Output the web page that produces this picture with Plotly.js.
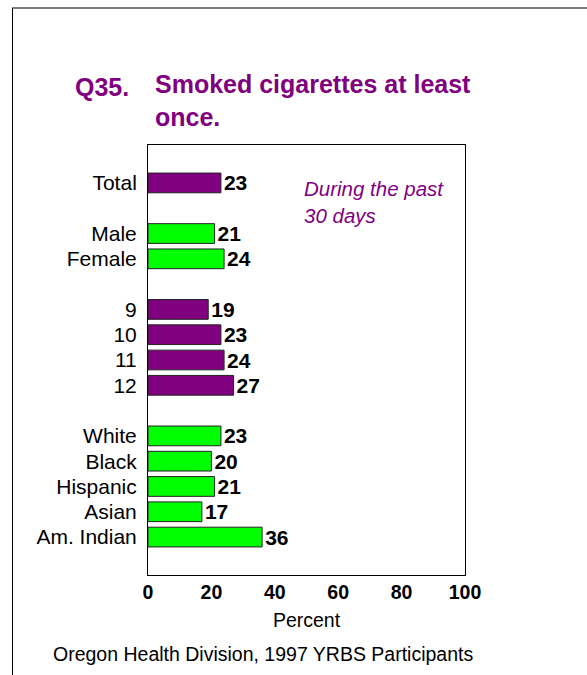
<!DOCTYPE html>
<html><head><meta charset="utf-8">
<script src="https://cdn.plot.ly/plotly-3.0.1.min.js"></script>
<style>html,body{margin:0;padding:0;background:#fff}#c{width:587px;height:675px}</style>
</head><body><div id="c"></div>
<script>
// Data
const totalLabels = ["Total"];
const totalValues = [23];
const sexLabels = ["Male", "Female"];
const sexValues = [21, 24];
const gradeLabels = ["9", "10", "11", "12"];
const gradeValues = [19, 23, 24, 27];
const raceLabels = ["White", "Black", "Hispanic", "Asian", "Am. Indian"];
const raceValues = [23, 20, 21, 17, 36];
const xTicks = [0, 20, 40, 60, 80, 100];

const PURPLE = "#800080", GREEN = "#00FF00";
const groups = [
  {labels: totalLabels, values: totalValues, color: PURPLE},
  {labels: sexLabels, values: sexValues, color: GREEN},
  {labels: gradeLabels, values: gradeValues, color: PURPLE},
  {labels: raceLabels, values: raceValues, color: GREEN}
];

const traces = [];
const tickvals = [], ticktext = [];
let pos = 0, lastPos = 0;
groups.forEach((g) => {
  const ys = g.labels.map((_, i) => pos + i);
  ys.forEach((y, i) => { tickvals.push(y); ticktext.push(g.labels[i]); lastPos = y; });
  traces.push({
    type: "bar", orientation: "h",
    x: g.values, y: ys,
    width: 0.78,
    marker: {color: g.color, line: {color: "#222", width: 1}},
    text: g.values.map(String), textposition: "outside", cliponaxis: false,
    constraintext: "none",
    textfont: {family: "Liberation Sans, Arial", size: 21, color: "#000", weight: "bold"},
    hoverinfo: "none", showlegend: false
  });
  pos += g.labels.length + 1;
});

// frame coordinates in paper units
const L = 148, R = 122, T = 145, B = 100, W = 587, H = 675;
const pw = W - L - R, ph = H - T - B;
const px = (x) => (x - L) / pw;
const py = (y) => (H - B - y) / ph;

const layout = {
  width: W, height: H,
  margin: {l: L, r: R, t: T, b: B},
  paper_bgcolor: "#fff", plot_bgcolor: "#fff",
  font: {family: "Liberation Sans, Arial", color: "#000"},
  bargap: 0,
  xaxis: {
    range: [0, 100], tickvals: xTicks, ticktext: xTicks.map(String),
    showgrid: false, zeroline: false, ticks: "",
    showline: true, linecolor: "#000", linewidth: 1, mirror: true,
    tickfont: {size: 19.5, weight: "bold", color: "#000"},
    title: {text: "Percent", font: {size: 19.5, color: "#000"}, standoff: 10},
    fixedrange: true
  },
  yaxis: {
    range: [lastPos + 1.5, -1.5],
    tickvals: tickvals, ticktext: ticktext,
    showgrid: false, zeroline: false, ticks: "",
    showline: true, linecolor: "#000", linewidth: 1, mirror: true,
    tickfont: {size: 21, color: "#000"},
    ticklabelstandoff: 6,
    fixedrange: true
  },
  annotations: [
    {xref: "paper", yref: "paper", x: px(73), y: py(87), xanchor: "left", yanchor: "middle",
     text: "<b>Q35.</b>", showarrow: false, font: {size: 25, color: PURPLE}},
    {xref: "paper", yref: "paper", x: px(153), y: py(100), xanchor: "left", yanchor: "middle",
     text: "<b>Smoked cigarettes at least<br>once.</b>", align: "left", showarrow: false,
     font: {size: 25, color: PURPLE}},
    {xref: "paper", yref: "paper", x: px(302), y: py(202), xanchor: "left", yanchor: "middle",
     text: "<i>During the past<br>30 days</i>", align: "left", showarrow: false,
     font: {size: 20.5, color: PURPLE}},
    {xref: "paper", yref: "paper", x: px(51), y: py(654), xanchor: "left", yanchor: "middle",
     text: "Oregon Health Division, 1997 YRBS Participants", showarrow: false,
     font: {size: 19.5, color: "#000"}}
  ],
  shapes: [
    {type: "line", xref: "paper", yref: "paper", x0: px(12), x1: px(587), y0: py(8), y1: py(8),
     line: {color: "#000", width: 1}},
    {type: "line", xref: "paper", yref: "paper", x0: px(12.5), x1: px(12.5), y0: py(8), y1: py(675),
     line: {color: "#000", width: 1}}
  ]
};

Plotly.newPlot("c", traces, layout, {displayModeBar: false, staticPlot: true});
</script></body></html>
